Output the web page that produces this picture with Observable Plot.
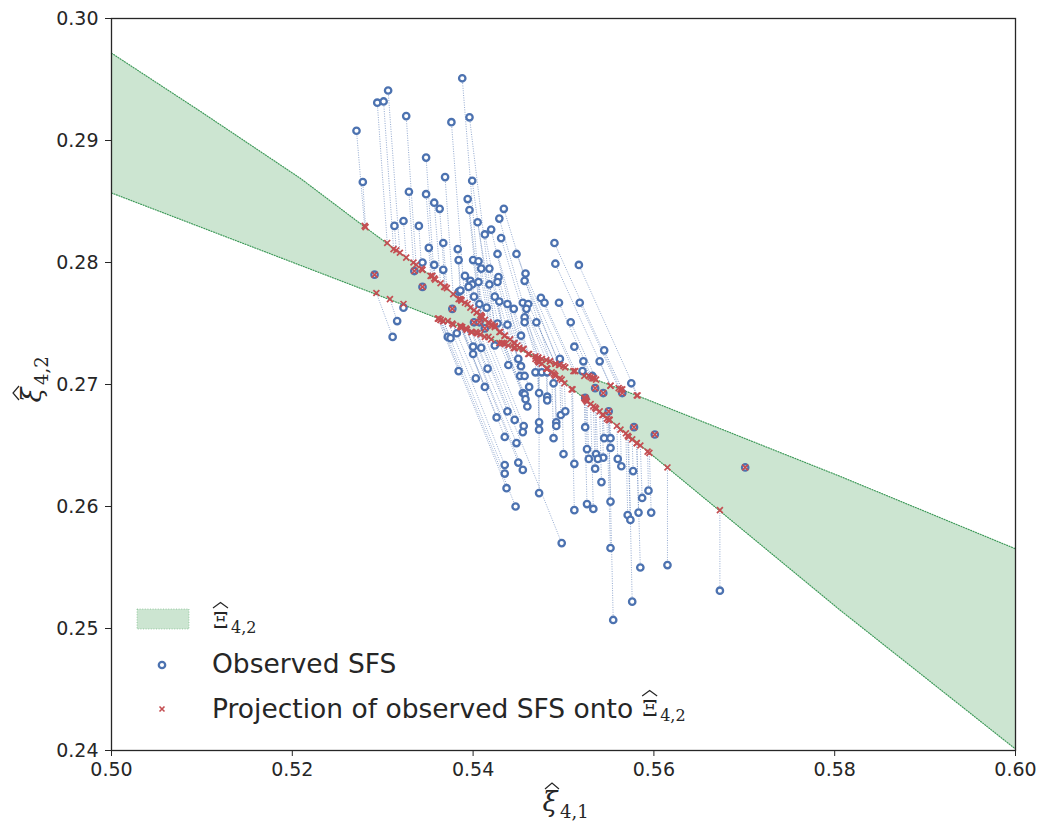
<!DOCTYPE html>
<html><head><meta charset="utf-8">
<script src="https://cdn.jsdelivr.net/npm/d3@7"></script>
<script src="https://cdn.jsdelivr.net/npm/@observablehq/plot@0.6"></script>
<style>body{margin:0;background:#fff;}</style>
</head><body><div id="chart"></div>
<script>
// ---- data ----
const xTicks = [0.50, 0.52, 0.54, 0.56, 0.58, 0.60];
const yTicks = [0.24, 0.25, 0.26, 0.27, 0.28, 0.29, 0.30];

// boundary of the model region Xi_{4,2} (two edges, crossing near x=0.546)
const edgeAx = [0.5, 0.50985, 0.52091, 0.52810, 0.53529, 0.53971, 0.54447, 0.54746, 0.55243, 0.55852, 0.56737, 0.58064, 0.6];
const edgeAy = [0.29716, 0.29238, 0.28689, 0.28287, 0.27893, 0.27631, 0.27344, 0.27180, 0.26877, 0.26500, 0.25959, 0.25148, 0.24012];
const edgeBx = [0.5, 0.52931, 0.55852, 0.58064, 0.6];
const edgeBy = [0.28570, 0.27738, 0.26898, 0.26246, 0.25653];

// observed SFS (x, y) and their projections (x, y)
const obsX = [.5271,.5278,.5294,.5301,.5306,.5326,.5348,.5329,.5348,.5357,.5363,.5369,.5376,.5388,.5396,.5399,.5394,.5396,.5405,.5413,
.5420,.5434,.5429,.5431,.5313,.5323,.5340,.5367,.5383,.5384,.5400,.5406,.5409,.5418,.5427,.5448,.5490,.5491,.5517,.5367,
.5391,.5397,.5406,.5428,.5427,.5458,.5457,.5418,.5399,.5395,.5401,.5384,.5386,.5424,.5429,.5438,.5445,.5407,.5415,.5455,
.5461,.5459,.5475,.5479,.5495,.5518,.5457,.5457,.5470,.5508,.5427,.5438,.5382,.5372,.5375,.5400,.5409,.5400,.5424,.5453,
.5512,.5545,.5450,.5496,.5522,.5377,.5335,.5291,.5344,.5323,.5316,.5311,.5413,.5401,.5407,.5439,.5453,.5416,.5384,.5403,
.5413,.5452,.5457,.5469,.5462,.5455,.5457,.5458,.5473,.5460,.5351,.5344,.5357,.5540,.5521,.5532,.5476,.5482,.5489,.5482,
.5482,.5497,.5502,.5438,.5426,.5446,.5456,.5455,.5473,.5473,.5492,.5492,.5489,.5435,.5448,.5500,.5435,.5435,.5450,.5455,
.5437,.5447,.5473,.5512,.5512,.5526,.5528,.5536,.5535,.5544,.5538,.5552,.5560,.5564,.5577,.5542,.5526,.5533,.5552,.5524,
.5545,.5552,.5571,.5583,.5574,.5594,.5587,.5597,.5498,.5552,.5585,.5615,.5576,.5555,.5673,.5575,.5535,.5544,.5550,.5578,
.5565,.5524,.5601,.5701];
const obsY = [.2908,.2866,.2931,.2932,.2941,.2920,.2886,.2858,.2856,.2849,.2844,.2870,.2915,.2951,.2919,.2867,.2852,.2843,.2833,.2823,
.2827,.2844,.2836,.2820,.2830,.2834,.2830,.2816,.2811,.2802,.2802,.2801,.2795,.2795,.2807,.2807,.2816,.2799,.2798,.2794,
.2789,.2785,.2784,.2788,.2784,.2791,.2785,.2782,.2782,.2780,.2772,.2776,.2777,.2772,.2768,.2766,.2762,.2766,.2763,.2767,
.2766,.2762,.2771,.2767,.2767,.2767,.2755,.2751,.2751,.2751,.2750,.2749,.2742,.2739,.2738,.2731,.2730,.2725,.2732,.2740,
.2731,.2728,.2721,.2721,.2719,.2762,.2793,.2790,.2780,.2763,.2752,.2739,.2746,.2751,.2751,.2716,.2715,.2713,.2711,.2705,
.2698,.2707,.2707,.2710,.2698,.2693,.2692,.2688,.2693,.2682,.2812,.2800,.2798,.2719,.2711,.2707,.2710,.2710,.2701,.2690,
.2687,.2675,.2678,.2678,.2673,.2671,.2666,.2661,.2669,.2663,.2669,.2666,.2656,.2657,.2652,.2643,.2634,.2627,.2636,.2630,
.2615,.2600,.2611,.2635,.2597,.2647,.2639,.2643,.2631,.2640,.2639,.2648,.2639,.2633,.2629,.2620,.2602,.2598,.2604,.2665,
.2656,.2656,.2593,.2595,.2589,.2613,.2607,.2595,.2570,.2566,.2550,.2552,.2522,.2507,.2531,.2701,.2697,.2693,.2678,.2665,
.2693,.2689,.2659,.2632];
const projX = [.5280,.5281,.5305,.5312,.5319,.5337,.5357,.5334,.5355,.5364,.5369,.5378,.5391,.5409,.5424,.5421,.5408,.5410,.5424,.5435,
.5451,.5485,.5472,.5469,.5315,.5326,.5343,.5371,.5386,.5387,.5409,.5417,.5420,.5435,.5456,.5495,.5563,.5552,.5582,.5368,
.5394,.5401,.5413,.5449,.5446,.5502,.5496,.5430,.5404,.5397,.5404,.5384,.5387,.5435,.5441,.5455,.5462,.5409,.5418,.5481,
.5491,.5485,.5511,.5513,.5532,.5561,.5476,.5472,.5491,.5536,.5429,.5445,.5377,.5364,.5367,.5393,.5403,.5388,.5420,.5461,
.5528,.5565,.5446,.5500,.5530,.5377,.5335,.5291,.5344,.5323,.5308,.5293,.5413,.5401,.5407,.5429,.5446,.5399,.5361,.5378,
.5386,.5439,.5445,.5469,.5446,.5432,.5435,.5434,.5473,.5432,.5353,.5344,.5358,.5552,.5523,.5534,.5476,.5482,.5489,.5482,
.5481,.5496,.5501,.5404,.5386,.5408,.5417,.5413,.5472,.5471,.5491,.5490,.5487,.5387,.5398,.5498,.5372,.5367,.5392,.5393,
.5362,.5364,.5473,.5510,.5509,.5525,.5526,.5535,.5533,.5543,.5536,.5551,.5559,.5563,.5576,.5540,.5523,.5530,.5550,.5524,
.5544,.5551,.5569,.5581,.5571,.5593,.5585,.5595,.5405,.5548,.5581,.5615,.5572,.5550,.5673,.5581,.5535,.5544,.5550,.5578,
.5565,.5524,.5601,.5701];
const projY = [.2830,.2829,.2816,.2811,.2808,.2798,.2787,.2800,.2789,.2783,.2780,.2774,.2767,.2756,.2747,.2748,.2757,.2755,.2748,.2740,
.2730,.2719,.2722,.2723,.2810,.2804,.2795,.2779,.2770,.2769,.2756,.2751,.2749,.2740,.2729,.2716,.2696,.2699,.2691,.2780,
.2766,.2761,.2753,.2732,.2734,.2714,.2716,.2743,.2759,.2763,.2759,.2770,.2769,.2740,.2737,.2729,.2725,.2756,.2750,.2720,
.2717,.2719,.2711,.2711,.2705,.2697,.2721,.2722,.2717,.2704,.2743,.2734,.2750,.2753,.2752,.2745,.2743,.2747,.2737,.2725,
.2707,.2696,.2730,.2715,.2706,.2762,.2793,.2790,.2780,.2766,.2770,.2775,.2746,.2751,.2751,.2734,.2730,.2743,.2754,.2749,
.2748,.2732,.2730,.2721,.2730,.2734,.2733,.2734,.2719,.2734,.2789,.2794,.2786,.2699,.2707,.2705,.2717,.2713,.2709,.2713,
.2713,.2705,.2701,.2742,.2747,.2741,.2739,.2739,.2719,.2720,.2707,.2708,.2710,.2747,.2743,.2704,.2752,.2752,.2746,.2745,
.2754,.2753,.2718,.2696,.2696,.2687,.2686,.2681,.2682,.2675,.2680,.2671,.2666,.2663,.2655,.2678,.2689,.2684,.2671,.2688,
.2675,.2671,.2660,.2652,.2658,.2645,.2650,.2644,.2742,.2672,.2652,.2632,.2657,.2671,.2597,.2691,.2697,.2693,.2678,.2665,
.2693,.2689,.2659,.2632];

// ---- build ----
const pts = obsX.map((x, i) => ({ox: x, oy: obsY[i], px: projX[i], py: projY[i]}));
const edgeA = edgeAx.map((x, i) => ({x, y: edgeAy[i]}));
const edgeB = edgeBx.map((x, i) => ({x, y: edgeBy[i]}));
const band = [...edgeA, ...edgeB.slice().reverse()];

const ink = "#262626";
const green = "#55a868", blue = "#4c72b0", red = "#c44e52";

const svg = Plot.plot({
  width: 1039, height: 827,
  marginLeft: 111, marginRight: 24, marginTop: 18, marginBottom: 77,
  style: {fontFamily: "DejaVu Sans", fontSize: "19px", color: ink, background: "#fff"},
  x: {domain: [0.5, 0.6], ticks: xTicks, tickFormat: d3.format(".2f"), label: null, tickSize: 6, tickPadding: 6},
  y: {domain: [0.24, 0.30], ticks: yTicks, tickFormat: d3.format(".2f"), label: null, tickSize: 6, tickPadding: 7},
  marks: [
    Plot.line(band, {x: "x", y: "y", fill: green, fillOpacity: 0.3, stroke: "none"}),
    Plot.line(edgeA, {x: "x", y: "y", stroke: "#3f9a5a", strokeWidth: 1.2, strokeDasharray: "1,1.6"}),
    Plot.line(edgeB, {x: "x", y: "y", stroke: "#3f9a5a", strokeWidth: 1.2, strokeDasharray: "1,1.6"}),
    Plot.link(pts, {x1: "ox", y1: "oy", x2: "px", y2: "py", stroke: blue, strokeOpacity: 0.6, strokeWidth: 1, strokeDasharray: "1,1.4"}),
    Plot.dot(pts, {x: "ox", y: "oy", r: 3.2, stroke: blue, strokeWidth: 2.3, fill: "white"}),
    Plot.dot(pts, {x: "px", y: "py", symbol: "times", r: 2.8, stroke: red, strokeWidth: 1.7}),
    Plot.frame({stroke: ink, strokeWidth: 1.3})
  ]
});
document.getElementById("chart").appendChild(svg);

// ---- labels and legend ----
const s = d3.select(svg);
const serif = "DejaVu Serif";

// math label: italic xi with a wide hat and a subscript, local origin = label centre on baseline
function xiLabel(g, sub) {
  g.append("text").attr("x", -11).attr("y", 0).attr("text-anchor", "middle").attr("fill", ink)
    .style("font-family", serif).style("font-style", "italic").style("font-size", "27px").text("\u03BE");
  g.append("path").attr("d", "M-16,-22L-9,-28L-2,-22").attr("fill", "none").attr("stroke", ink).attr("stroke-width", 1.2);
  g.append("text").attr("x", -1).attr("y", 7).attr("text-anchor", "start").attr("fill", ink)
    .style("font-family", serif).style("font-size", "18px").text(sub);
}
xiLabel(s.append("g").attr("transform", "translate(561,811)"), "4,1");
xiLabel(s.append("g").attr("transform", "translate(41,384) rotate(-90)"), "4,2");

// upright Xi with wide hat and subscript, origin = left of Xi on baseline
function XiLabel(g) {
  g.append("text").attr("x", 0).attr("y", 0).attr("text-anchor", "start").attr("fill", ink)
    .style("font-family", serif).style("font-size", "22px").text("\u039E");
  g.append("path").attr("d", "M0,-20L7.5,-25.5L15,-20").attr("fill", "none").attr("stroke", ink).attr("stroke-width", 1.2);
  g.append("text").attr("x", 18).attr("y", 5).attr("text-anchor", "start").attr("fill", ink)
    .style("font-family", serif).style("font-size", "16px").text("4,2");
}

const lg = s.append("g");
lg.append("rect").attr("x", 137).attr("y", 609).attr("width", 52).attr("height", 20)
  .attr("fill", green).attr("fill-opacity", 0.3).attr("stroke", green).attr("stroke-opacity", 0.5)
  .attr("stroke-dasharray", "1,1.6");
XiLabel(lg.append("g").attr("transform", "translate(213,628)"));

lg.append("circle").attr("cx", 162).attr("cy", 665).attr("r", 3.2)
  .attr("fill", "white").attr("stroke", blue).attr("stroke-width", 2.3);
lg.append("text").attr("x", 212).attr("y", 673).attr("text-anchor", "start").attr("fill", ink)
  .style("font-family", "DejaVu Sans").style("font-size", "26.5px").text("Observed SFS");

lg.append("path").attr("d", "M159.5,706.5L164.5,711.5M164.5,706.5L159.5,711.5")
  .attr("stroke", red).attr("stroke-width", 1.6).attr("fill", "none");
const t3 = lg.append("text").attr("x", 212).attr("y", 718).attr("text-anchor", "start").attr("fill", ink)
  .style("font-family", "DejaVu Sans").style("font-size", "26.5px").text("Projection of observed SFS onto");
let len = 412;
try { len = t3.node().getComputedTextLength(); } catch (e) {}
XiLabel(lg.append("g").attr("transform", `translate(${212 + len + 9},716)`));
</script>
</body></html>
